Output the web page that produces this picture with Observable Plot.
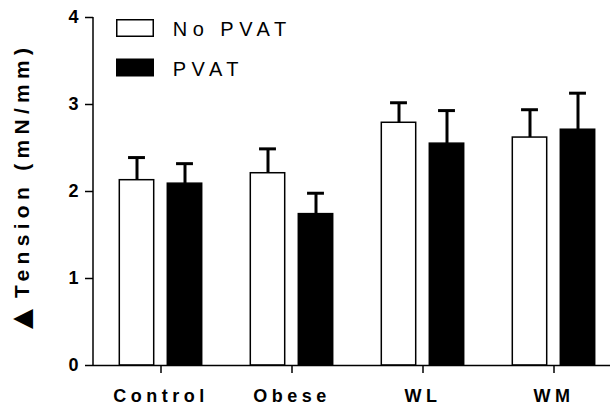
<!DOCTYPE html>
<html>
<head>
<meta charset="utf-8">
<script src="https://cdn.jsdelivr.net/npm/d3@7"></script>
<script src="https://cdn.jsdelivr.net/npm/@observablehq/plot@0.6"></script>
<style>
  body { margin: 0; background: #fff; }
  #chart { width: 611px; height: 409px; }
  #chart svg { font-family: "Liberation Sans", Arial, sans-serif; }
  #chart g[aria-label="x-axis tick label"] text { letter-spacing: 4.5px; }
  .legend text { letter-spacing: 5.5px; }
  .ylabel { letter-spacing: 5.3px; }
</style>
</head>
<body>
<div id="chart"></div>
<script>
// Groups and series
const groups = ["Control", "Obese", "WL", "WM"];
const series = ["No PVAT", "PVAT"];
const seriesFill = ["white", "black"];

// Mean tension (mN/mm) and SEM per group
const noPvatMean = [2.13, 2.21, 2.79, 2.62];
const noPvatSem  = [0.26, 0.28, 0.23, 0.32];
const pvatMean   = [2.09, 1.74, 2.55, 2.71];
const pvatSem    = [0.23, 0.24, 0.38, 0.42];

const yTicks = [0, 1, 2, 3, 4];
const yLabel = "Tension (mN/mm)";

const noPvat = groups.map((g, i) => ({group: g, mean: noPvatMean[i], sem: noPvatSem[i]}));
const pvat   = groups.map((g, i) => ({group: g, mean: pvatMean[i], sem: pvatSem[i]}));

const width = 611, height = 409;
const marginLeft = 93, marginTop = 17, marginBottom = 44, marginRight = 1;
const groupStep = 131.1;
const barInset = (groupStep - 34.5) / 2;
const capInset = (groupStep - 17) / 2;
const offset = 24;

function groupMarks(rows, fill, dx) {
  return [
    Plot.ruleX(rows, {x: "group", y1: "mean", y2: d => d.mean + d.sem, dx, stroke: "black", strokeWidth: 3}),
    Plot.tickY(rows, {x: "group", y: d => d.mean + d.sem, dx, stroke: "black", strokeWidth: 3,
      insetLeft: capInset, insetRight: capInset}),
    Plot.barY(rows, {x: "group", y: "mean", dx, fill, stroke: "black", strokeWidth: 1.5,
      insetLeft: barInset, insetRight: barInset})
  ];
}

const chart = Plot.plot({
  width, height, marginLeft, marginTop, marginBottom, marginRight,
  style: {background: "white", color: "black", fontFamily: "Liberation Sans, Arial, sans-serif"},
  x: {domain: groups, range: [160.2 - groupStep / 2, 160.2 + groupStep * 3.5], padding: 0, label: null},
  y: {domain: [0, 4], label: null},
  marks: [
    Plot.axisY({ticks: yTicks, tickFormat: "d", tickSize: 8, tickPadding: 7, fontSize: 18, fontWeight: "bold",
      strokeWidth: 1.5, label: null}),
    Plot.axisX({tickSize: 8, tickPadding: 16, fontSize: 18, fontWeight: "bold", strokeWidth: 1.5, label: null}),
    ...groupMarks(noPvat, seriesFill[0], -offset),
    ...groupMarks(pvat, seriesFill[1], offset),
    Plot.ruleY([0], {stroke: "black", strokeWidth: 1.5})
  ]
});

const svg = d3.select(chart);
const y = chart.scale("y");

// vertical axis line
svg.append("line")
  .attr("x1", marginLeft).attr("x2", marginLeft)
  .attr("y1", y.apply(4)).attr("y2", y.apply(0))
  .attr("stroke", "black").attr("stroke-width", 1.5);

// rotated axis title: delta marker, then the label reading upward
svg.append("text")
  .attr("transform", "translate(33,319) rotate(-90)")
  .attr("text-anchor", "middle")
  .attr("font-size", 34)
  .attr("fill", "black")
  .text("▲");
svg.append("text")
  .attr("class", "ylabel")
  .attr("transform", "translate(29,298) rotate(-90)")
  .attr("text-anchor", "start")
  .attr("font-weight", "bold")
  .attr("font-size", 21)
  .attr("fill", "black")
  .text(yLabel);

// legend
const legend = svg.append("g").attr("class", "legend");
series.forEach((name, i) => {
  const row = legend.append("g").attr("transform", `translate(116.75,${19.75 + i * 39.5})`);
  row.append("rect").attr("width", 36.5).attr("height", 16.5)
    .attr("fill", seriesFill[i]).attr("stroke", "black").attr("stroke-width", 1.5);
  row.append("text").attr("x", 56).attr("y", 16.5).attr("text-anchor", "start")
    .attr("font-size", 20).attr("fill", "black").text(name);
});

document.getElementById("chart").append(chart);
</script>
</body>
</html>
